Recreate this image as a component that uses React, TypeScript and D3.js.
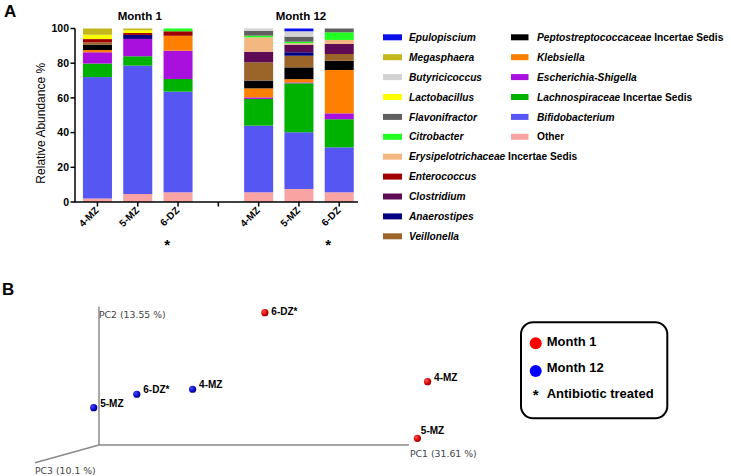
import React from "react";
import * as d3 from "d3";

// stacking order: bottom -> top
const taxa = [
  "Other",
  "Bifidobacterium",
  "Lachnospiraceae",
  "Escherichia-Shigella",
  "Klebsiella",
  "Peptostreptococcaceae",
  "Veillonella",
  "Anaerostipes",
  "Clostridium",
  "Enterococcus",
  "Erysipelotrichaceae",
  "Citrobacter",
  "Flavonifractor",
  "Lactobacillus",
  "Butyricicoccus",
  "Megasphaera",
  "Epulopiscium",
];

const taxaColors = [
  "#f9a3a3",
  "#5656f2",
  "#00b200",
  "#aa10dd",
  "#ff8000",
  "#000000",
  "#9b6428",
  "#000080",
  "#5e0a55",
  "#a00000",
  "#f3b882",
  "#22ff22",
  "#606060",
  "#ffff00",
  "#d2d2d2",
  "#c2b81c",
  "#0a10e8",
];

const samples = ["4-MZ", "5-MZ", "6-DZ"];
const months = ["Month 1", "Month 12"];

// relative abundance %, same order as taxa
const month1_4MZ = [2, 70, 7.8, 6.5, 1.3, 3.1, 1.3, 0, 0, 1.9, 0, 0, 0, 2.5, 0, 3.6, 0];
const month1_5MZ = [4.6, 74, 5.4, 10, 0, 0, 0, 2.3, 0, 1.1, 0, 0, 0, 1.6, 0, 1.0, 0];
const month1_6DZ = [5.6, 58, 7.3, 16.3, 8.6, 0, 0, 0, 0, 2.6, 0, 1.6, 0, 0, 0, 0, 0];
const month12_4MZ = [5.6, 38.4, 15.4, 0.9, 5.2, 4.5, 10.5, 0, 6.1, 0, 8.3, 1.0, 2.8, 0, 1.3, 0, 0];
const month12_5MZ = [7.5, 32.7, 28.2, 0.5, 1.9, 6.8, 6.7, 2.0, 4.4, 0, 0.8, 0.9, 2.9, 0, 3.1, 0, 1.6];
const month12_6DZ = [5.6, 25.9, 16.2, 3.4, 25, 5.3, 3.9, 0, 5.8, 0, 2.3, 4.4, 2.2, 0, 0, 0, 0];

const yTicks = [0, 20, 40, 60, 80, 100];

// legend: two columns, [name, italic part, plain suffix]
const legendCol1 = [
  ["Epulopiscium", ""],
  ["Megasphaera", ""],
  ["Butyricicoccus", ""],
  ["Lactobacillus", ""],
  ["Flavonifractor", ""],
  ["Citrobacter", ""],
  ["Erysipelotrichaceae", " Incertae Sedis"],
  ["Enterococcus", ""],
  ["Clostridium", ""],
  ["Anaerostipes", ""],
  ["Veillonella", ""],
];
const legendCol1Keys = [
  "Epulopiscium", "Megasphaera", "Butyricicoccus", "Lactobacillus", "Flavonifractor",
  "Citrobacter", "Erysipelotrichaceae", "Enterococcus", "Clostridium", "Anaerostipes", "Veillonella",
];
const legendCol2 = [
  ["Peptostreptococcaceae", " Incertae Sedis"],
  ["Klebsiella", ""],
  ["Escherichia-Shigella", ""],
  ["Lachnospiraceae", " Incertae Sedis"],
  ["Bifidobacterium", ""],
  ["Other", ""],
];

// PCoA (projected onto the PC1 / PC2 plane, axis-relative units)
const pcoaNames = ["6-DZ*", "4-MZ", "5-MZ", "4-MZ", "6-DZ*", "5-MZ"];
const pcoaMonth = ["Month 1", "Month 1", "Month 1", "Month 12", "Month 12", "Month 12"];
const pcoaPC1 = [0.535, 1.06, 1.027, 0.302, 0.122, -0.017];
const pcoaPC2 = [0.957, 0.458, 0.048, 0.403, 0.367, 0.27];

const FONT = "'Liberation Sans', Arial, sans-serif";

export default function App() {
  const width = 731;
  const height = 476;

  const bars = [
    { key: "m1-0", month: 0, sample: 0, values: month1_4MZ },
    { key: "m1-1", month: 0, sample: 1, values: month1_5MZ },
    { key: "m1-2", month: 0, sample: 2, values: month1_6DZ },
    { key: "m12-0", month: 1, sample: 0, values: month12_4MZ },
    { key: "m12-1", month: 1, sample: 1, values: month12_5MZ },
    { key: "m12-2", month: 1, sample: 2, values: month12_6DZ },
  ];
  const domain = ["m1-0", "m1-1", "m1-2", "gap", "m12-0", "m12-1", "m12-2"];

  const x = d3
    .scaleBand()
    .domain(domain)
    .range([77.3, 359.4])
    .paddingInner(0.28)
    .paddingOuter(0.14);
  const y = d3.scaleLinear().domain([0, 100]).range([202, 28.5]);

  const rows = bars.map((b) => {
    const r: any = { key: b.key };
    taxa.forEach((t, i) => (r[t] = b.values[i]));
    return r;
  });
  const series = d3.stack().keys(taxa)(rows);
  const color = d3.scaleOrdinal<string, string>().domain(taxa).range(taxaColors);

  const cx = (k: string) => (x(k) as number) + x.bandwidth() / 2;

  // panel B scales
  const px = d3.scaleLinear().domain([0, 1]).range([99, 409]);
  const py = d3.scaleLinear().domain([0, 1]).range([445, 306.7]);

  const legendColor = (name: string) => color(name);

  return (
    <svg
      width={width}
      height={height}
      style={{ position: "absolute", left: 0, top: 0, background: "#fff" }}
      fontFamily={FONT}
    >
      <defs>
        <radialGradient id="redBall" cx="35%" cy="35%" r="70%">
          <stop offset="0%" stopColor="#ff5a5a" />
          <stop offset="60%" stopColor="#e00000" />
          <stop offset="100%" stopColor="#8a0000" />
        </radialGradient>
        <radialGradient id="blueBall" cx="35%" cy="35%" r="70%">
          <stop offset="0%" stopColor="#4a4aff" />
          <stop offset="60%" stopColor="#0a0ad0" />
          <stop offset="100%" stopColor="#00006e" />
        </radialGradient>
      </defs>

      {/* Panel A */}
      <text x={4} y={17} fontSize={17} fontWeight="bold">A</text>

      {series.map((s) => (
        <g key={s.key} fill={color(s.key)}>
          {s.map((d, i) =>
            d[1] - d[0] > 0 ? (
              <rect
                key={i}
                x={x(rows[i].key)}
                y={y(d[1])}
                width={x.bandwidth()}
                height={y(d[0]) - y(d[1])}
              />
            ) : null
          )}
        </g>
      ))}

      {/* y axis */}
      <line x1={75} x2={75} y1={y(100)} y2={y(0)} stroke="#000" strokeWidth={1.5} />
      {yTicks.map((t) => (
        <g key={t}>
          <line x1={70.5} x2={75} y1={y(t)} y2={y(t)} stroke="#000" strokeWidth={1.5} />
          <text x={69} y={y(t) + 3.8} textAnchor="end" fontSize={10.5} fontWeight="bold">
            {t}
          </text>
        </g>
      ))}
      <text
        transform={`translate(45,${(y(0) + y(100)) / 2 + 8}) rotate(-90)`}
        textAnchor="middle"
        fontSize={12}
      >
        Relative Abundance %
      </text>

      {/* x axis */}
      <line x1={74.3} x2={358} y1={y(0)} y2={y(0)} stroke="#000" strokeWidth={1.5} />
      {domain.map((k) => (
        <line key={k} x1={cx(k)} x2={cx(k)} y1={y(0)} y2={y(0) + 4.5} stroke="#000" strokeWidth={1.5} />
      ))}
      {bars.map((b) => (
        <text
          key={b.key}
          transform={`translate(${cx(b.key) + 2},${y(0) + 9}) rotate(-45)`}
          textAnchor="end"
          fontSize={10}
          fontWeight="bold"
        >
          {samples[b.sample]}
        </text>
      ))}
      {bars
        .filter((b) => b.sample === 2)
        .map((b) => (
          <text
            key={"ast" + b.key}
            x={cx(b.key) - 11}
            y={y(0) + 48}
            textAnchor="middle"
            fontSize={15}
            fontWeight="bold"
          >
            *
          </text>
        ))}

      {months.map((m, i) => (
        <text
          key={m}
          x={(cx(i === 0 ? "m1-0" : "m12-0") + cx(i === 0 ? "m1-2" : "m12-2")) / 2 + 2}
          y={20}
          textAnchor="middle"
          fontSize={11.5}
          fontWeight="bold"
        >
          {m}
        </text>
      ))}

      {/* legend A */}
      {legendCol1.map(([name, suffix], i) => (
        <g key={name} transform={`translate(383,${37.3 + i * 19.9})`}>
          <rect x={0} y={-3} width={19} height={6} fill={legendColor(legendCol1Keys[i])} />
          <text x={26} y={3.6} fontSize={10.2} fontWeight="bold">
            <tspan fontStyle="italic">{name}</tspan>
            {suffix ? <tspan>{suffix}</tspan> : null}
          </text>
        </g>
      ))}
      {legendCol2.map(([name, suffix], i) => (
        <g key={name} transform={`translate(511,${37.3 + i * 19.9})`}>
          <rect x={0} y={-3} width={17.5} height={6} fill={legendColor(name)} />
          <text x={26} y={3.6} fontSize={10.2} fontWeight="bold">
            <tspan fontStyle={name === "Other" ? "normal" : "italic"}>{name}</tspan>
            {suffix ? <tspan>{suffix}</tspan> : null}
          </text>
        </g>
      ))}

      {/* Panel B */}
      <text x={2} y={295} fontSize={17} fontWeight="bold">B</text>

      <g stroke="#8a8a8a" strokeWidth={1.5}>
        <line x1={px(0)} x2={px(0)} y1={py(0)} y2={py(1)} />
        <line x1={px(0)} x2={px(1)} y1={py(0)} y2={py(0)} />
        <line x1={px(0)} x2={35} y1={py(0)} y2={462.7} />
      </g>
      <g fontFamily="'DejaVu Sans', Verdana, sans-serif" fontSize={9.3} fill="#444">
        <text x={px(0)} y={py(1) + 11}>PC2 (13.55 %)</text>
        <text x={px(1) + 1} y={py(0) + 12}>PC1 (31.61 %)</text>
        <text x={35} y={474}>PC3 (10.1 %)</text>
      </g>

      {pcoaNames.map((n, i) => {
        const X = px(pcoaPC1[i]);
        const Y = py(pcoaPC2[i]);
        const red = pcoaMonth[i] === "Month 1";
        const below = red && n === "5-MZ";
        return (
          <g key={i}>
            <circle cx={X} cy={Y} r={3.6} fill={red ? "url(#redBall)" : "url(#blueBall)"} />
            <text
              x={below ? X + 3.5 : X + 6.5}
              y={below ? Y - 4.5 : Y + (red && n === "6-DZ*" ? 2 : -1)}
              fontSize={10}
              fontWeight="bold"
            >
              {n}
            </text>
          </g>
        );
      })}

      {/* legend B */}
      <rect x={521} y={322.3} width={146.3} height={96} rx={12} fill="#fff" stroke="#000" strokeWidth={2} />
      <circle cx={535.7} cy={343.3} r={6} fill="#ff0000" />
      <text x={546.7} y={346.3} fontSize={13} fontWeight="bold">Month 1</text>
      <circle cx={535.7} cy={371} r={6} fill="#0000ff" />
      <text x={546.7} y={372.3} fontSize={13} fontWeight="bold">Month 12</text>
      <text x={535.7} y={400} fontSize={15} fontWeight="bold" textAnchor="middle">*</text>
      <text x={546.7} y={397.8} fontSize={13} fontWeight="bold">Antibiotic treated</text>
    </svg>
  );
}
